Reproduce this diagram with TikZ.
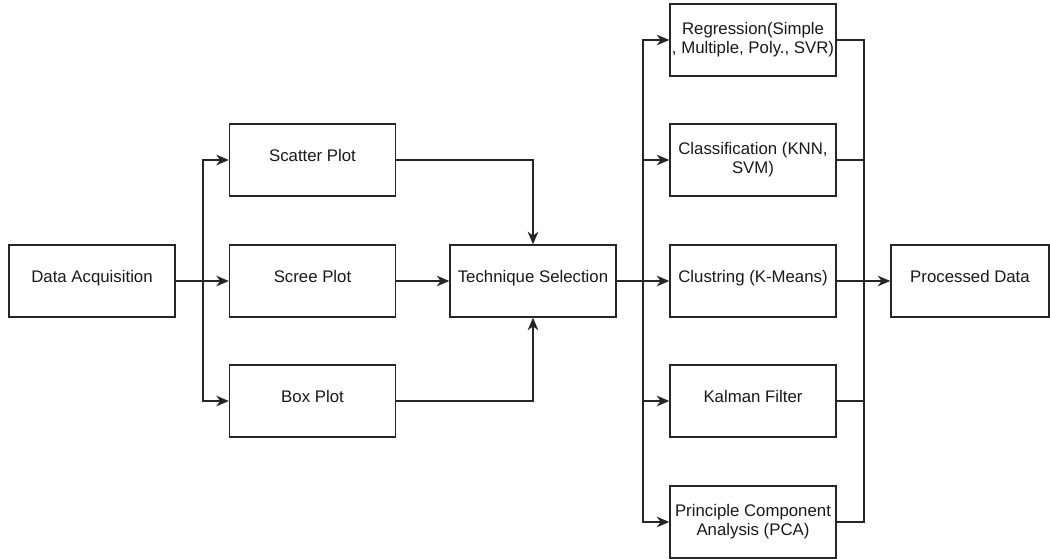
\documentclass[tikz,border=0pt]{standalone}
\usepackage{fontspec}
\setmainfont{Liberation Sans}
\usetikzlibrary{arrows.meta}
\begin{document}
\begin{tikzpicture}[x=0.75pt,y=-0.75pt,
  box/.style={draw=black!85, line width=1pt, minimum width=124.5pt, minimum height=54pt,
    inner sep=0pt, align=center, font=\fontsize{12.6}{14.2}\selectfont, text=black!90},
  one/.style={text height=9pt, text depth=6pt},
  conn/.style={line width=1pt, draw=black!85},
  arr/.style={conn, -{Stealth[length=9.5pt,width=8pt,inset=3pt]}}]
\useasboundingbox (0,0) rectangle (1050,559);

\node[box,one] (da) at (92,281) {Data Acquisition};
\node[box,one] (scatter) at (312.5,160) {Scatter Plot};
\node[box,one] (scree) at (312.5,281) {Scree Plot};
\node[box,one] (boxp) at (312.5,401) {Box Plot};
\node[box,one] (tech) at (533,281) {Technique Selection};
\node[box] (reg) at (753,40) {Regression(Simple\\, Multiple, Poly., SVR)};
\node[box] (cls) at (753,160) {Classification (KNN,\\SVM)};
\node[box,one] (clust) at (753,281) {Clustring (K-Means)};
\node[box,one] (kal) at (753,401) {Kalman Filter};
\node[box] (pca) at (753,522) {Principle Component\\Analysis (PCA)};
\node[box,one, minimum width=118.5pt] (proc) at (970,281) {Processed Data};

\coordinate (b1) at (203,281);
\coordinate (b2) at (643,281);
\coordinate (b3) at (864,281);

\draw[arr] (da.east) -- (scree.west);
\draw[arr] (b1) |- (scatter.west);
\draw[arr] (b1) |- (boxp.west);

\draw[arr] (scatter.east) -| (tech.north);
\draw[arr] (scree.east) -- (tech.west);
\draw[arr] (boxp.east) -| (tech.south);

\draw[arr] (tech.east) -- (clust.west);
\draw[arr] (b2) |- (reg.west);
\draw[arr] (b2) |- (cls.west);
\draw[arr] (b2) |- (kal.west);
\draw[arr] (b2) |- (pca.west);

\draw[conn] (reg.east) -| (b3);
\draw[conn] (pca.east) -| (b3);
\draw[conn] (cls.east) -- (cls.east -| b3);
\draw[conn] (kal.east) -- (kal.east -| b3);
\draw[arr] (clust.east) -- (proc.west);
\end{tikzpicture}
\end{document}
